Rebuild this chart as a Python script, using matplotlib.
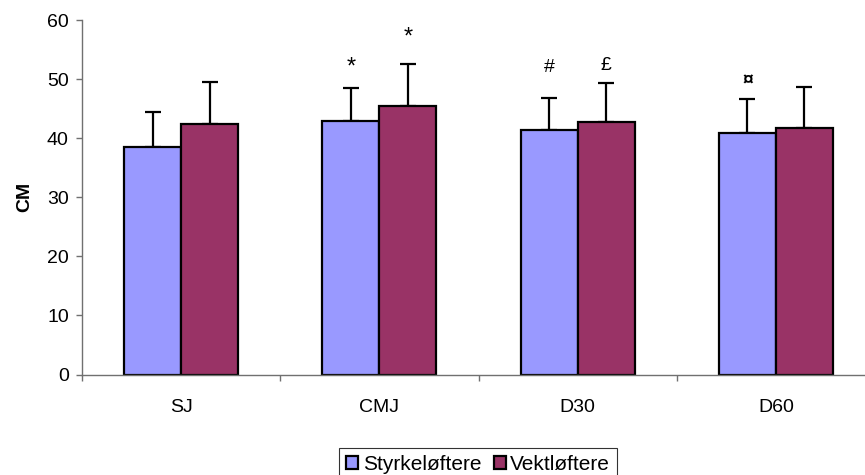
import matplotlib.pyplot as plt
import numpy as np

plt.rcParams['font.family'] = ['Liberation Sans', 'DejaVu Sans']

tests = ['SJ', 'CMJ', 'D30', 'D60']
groups = ['Styrkeløftere', 'Vektløftere']
styrke_mean = [38.6, 43.0, 41.4, 40.9]
styrke_sd = [5.8, 5.5, 5.5, 5.8]
vekt_mean = [42.5, 45.4, 42.8, 41.7]
vekt_sd = [7.1, 7.2, 6.5, 7.0]

# significance marks: (test index, group index, symbol, y)
marks = [(1, 0, '*', 52.0), (1, 1, '*', 57.0), (2, 0, '#', 52.0),
         (2, 1, '£', 52.3), (3, 0, '¤', 49.7)]

colors = ['#9999FF', '#993366']
w = 0.287

fig = plt.figure(figsize=(8.65, 4.75), dpi=100)
ax = fig.add_axes([82 / 865, 1 - 374.5 / 475, 793 / 865, (374.5 - 20.3) / 475])

x = np.arange(len(tests))
for i, (m, s) in enumerate([(styrke_mean, styrke_sd), (vekt_mean, vekt_sd)]):
    pos = x + (i - 0.5) * w
    ax.bar(pos, m, w, color=colors[i], edgecolor='black', linewidth=1.6,
           label=groups[i], zorder=2)
    ax.errorbar(pos, m, yerr=[np.zeros(len(s)), s], fmt='none', ecolor='black',
                elinewidth=1.6, capsize=5.8, capthick=1.6, zorder=1)

for ti, gi, sym, y in marks:
    ax.text(x[ti] + (gi - 0.5) * w, y, sym, ha='center', va='center',
            fontsize=17 if sym == '*' else 14,
            fontweight='bold' if sym == '¤' else 'normal')

ax.set_xlim(-0.5, 3.5)
ax.set_ylim(0, 60)
ax.set_yticks(range(0, 61, 10))
ax.set_xticks(x)
ax.set_xticklabels(tests)
ax.set_xticks(np.arange(-0.5, 3.6, 1), minor=True)
ax.tick_params(axis='x', which='major', length=0, pad=18, labelsize=14)
ax.tick_params(axis='x', which='minor', length=4.5, color='#707070', width=1)
ax.tick_params(axis='y', length=4.5, color='#707070', width=1, labelsize=14, pad=5)

for side in ['top', 'right']:
    ax.spines[side].set_visible(False)
for side in ['left', 'bottom']:
    ax.spines[side].set_color('#707070')
    ax.spines[side].set_linewidth(1)

ax.set_ylabel('CM', fontweight='bold', fontsize=14, labelpad=10)

leg = fig.legend(loc='center', bbox_to_anchor=(478 / 865, 1 - 464 / 475), ncol=2,
                 fancybox=False, edgecolor='black', fontsize=15,
                 handlelength=0.6, handleheight=0.6, handletextpad=0.2,
                 columnspacing=0.6, borderpad=0.32, borderaxespad=0)
leg.get_frame().set_linewidth(0.8)

fig.savefig('out.png', dpi=100)
